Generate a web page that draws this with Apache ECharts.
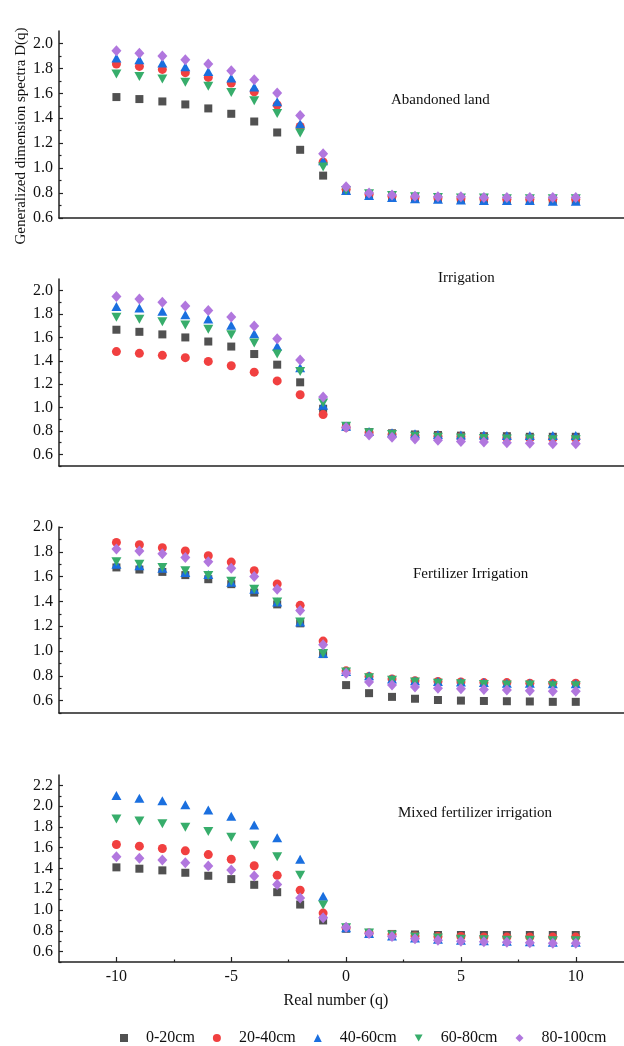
<!DOCTYPE html>
<html><head><meta charset="utf-8">
<script src="https://cdn.jsdelivr.net/npm/echarts@6/dist/echarts.min.js"></script>
<style>html,body{margin:0;padding:0;background:#fff}#c{width:624px;height:1046px}</style>
</head><body><div id="c"></div><script>
// ---------- DATA ----------
const qValues = [-10,-9,-8,-7,-6,-5,-4,-3,-2,-1,0,1,2,3,4,5,6,7,8,9,10];
const seriesNames = ['0-20cm','20-40cm','40-60cm','60-80cm','80-100cm'];
const panelTitles = ['Abandoned land','Irrigation','Fertilizer Irrigation','Mixed fertilizer irrigation'];

// Abandoned land
const abandoned_0_20  = [1.570,1.554,1.535,1.511,1.479,1.436,1.374,1.286,1.147,0.940,0.820,0.790,0.770,0.760,0.755,0.750,0.750,0.750,0.745,0.745,0.745];
const abandoned_20_40 = [1.835,1.816,1.792,1.766,1.728,1.683,1.613,1.506,1.334,1.050,0.830,0.790,0.775,0.765,0.760,0.755,0.755,0.750,0.750,0.750,0.750];
const abandoned_40_60 = [1.884,1.870,1.843,1.814,1.776,1.723,1.650,1.532,1.356,1.060,0.820,0.780,0.765,0.755,0.750,0.745,0.740,0.740,0.740,0.735,0.735];
const abandoned_60_80 = [1.755,1.736,1.715,1.688,1.656,1.607,1.540,1.438,1.281,1.010,0.820,0.795,0.780,0.770,0.765,0.760,0.760,0.755,0.755,0.755,0.755];
const abandoned_80_100= [1.942,1.921,1.900,1.870,1.835,1.782,1.709,1.602,1.422,1.115,0.850,0.800,0.785,0.775,0.770,0.770,0.765,0.765,0.765,0.765,0.765];

// Irrigation
const irrigation_0_20  = [1.666,1.648,1.626,1.600,1.565,1.522,1.458,1.367,1.216,0.990,0.840,0.790,0.780,0.770,0.765,0.760,0.755,0.755,0.750,0.750,0.750];
const irrigation_20_40 = [1.479,1.464,1.447,1.427,1.395,1.358,1.303,1.228,1.110,0.940,0.830,0.785,0.770,0.760,0.755,0.750,0.745,0.740,0.740,0.735,0.735];
const irrigation_40_60 = [1.865,1.851,1.825,1.795,1.758,1.704,1.631,1.525,1.341,1.020,0.840,0.795,0.785,0.775,0.770,0.765,0.765,0.760,0.760,0.760,0.760];
const irrigation_60_80 = [1.773,1.756,1.735,1.706,1.669,1.623,1.553,1.458,1.309,1.040,0.840,0.785,0.770,0.755,0.745,0.740,0.735,0.730,0.730,0.725,0.725];
const irrigation_80_100= [1.951,1.928,1.902,1.870,1.830,1.775,1.698,1.588,1.406,1.090,0.830,0.765,0.745,0.730,0.720,0.710,0.705,0.700,0.695,0.690,0.690];

// Fertilizer Irrigation
const fertilizer_0_20  = [1.674,1.657,1.638,1.612,1.579,1.539,1.471,1.376,1.223,0.975,0.725,0.660,0.630,0.615,0.605,0.600,0.597,0.595,0.593,0.590,0.590];
const fertilizer_20_40 = [1.876,1.857,1.833,1.806,1.768,1.717,1.647,1.541,1.368,1.080,0.840,0.795,0.775,0.760,0.755,0.750,0.745,0.745,0.740,0.740,0.740];
const fertilizer_40_60 = [1.700,1.687,1.668,1.633,1.617,1.555,1.498,1.395,1.233,0.980,0.835,0.800,0.775,0.760,0.755,0.750,0.745,0.740,0.740,0.735,0.735];
const fertilizer_60_80 = [1.720,1.700,1.674,1.647,1.609,1.563,1.498,1.395,1.233,0.980,0.830,0.785,0.765,0.750,0.740,0.735,0.730,0.725,0.725,0.720,0.720];
const fertilizer_80_100= [1.822,1.806,1.784,1.755,1.720,1.668,1.601,1.498,1.327,1.050,0.820,0.750,0.725,0.710,0.700,0.695,0.690,0.685,0.680,0.675,0.675];

// Mixed fertilizer irrigation
const mixed_0_20  = [1.411,1.398,1.382,1.359,1.330,1.298,1.243,1.172,1.053,0.900,0.820,0.780,0.770,0.765,0.760,0.760,0.760,0.760,0.760,0.760,0.760];
const mixed_20_40 = [1.631,1.615,1.592,1.570,1.534,1.489,1.427,1.334,1.191,0.971,0.830,0.780,0.765,0.750,0.745,0.745,0.740,0.740,0.740,0.740,0.740];
const mixed_40_60 = [2.103,2.077,2.052,2.013,1.964,1.902,1.819,1.696,1.489,1.133,0.830,0.775,0.750,0.730,0.720,0.710,0.705,0.700,0.695,0.690,0.690];
const mixed_60_80 = [1.877,1.858,1.831,1.796,1.757,1.702,1.625,1.514,1.334,1.049,0.830,0.780,0.760,0.740,0.730,0.720,0.715,0.710,0.710,0.705,0.705];
const mixed_80_100= [1.514,1.498,1.482,1.456,1.424,1.385,1.327,1.247,1.117,0.926,0.835,0.775,0.745,0.725,0.710,0.700,0.695,0.690,0.685,0.680,0.680];

// Tick labels
const xMajorTicks = [-10,-5,0,5,10];
const xMinorTicks = [-7.5,-2.5,2.5,7.5];
const yMajorTicks1 = [0.6,0.8,1.0,1.2,1.4,1.6,1.8,2.0];
const yMinorTicks1 = [0.7,0.9,1.1,1.3,1.5,1.7,1.9];
const yMajorTicks4 = [0.6,0.8,1.0,1.2,1.4,1.6,1.8,2.0,2.2];
const yMinorTicks2 = [0.5,0.7,0.9,1.1,1.3,1.5,1.7,1.9];
const yMinorTicks4 = [0.5,0.7,0.9,1.1,1.3,1.5,1.7,1.9,2.1];

// ---------- CHART ----------
const panelData = [
  [abandoned_0_20, abandoned_20_40, abandoned_40_60, abandoned_60_80, abandoned_80_100],
  [irrigation_0_20, irrigation_20_40, irrigation_40_60, irrigation_60_80, irrigation_80_100],
  [fertilizer_0_20, fertilizer_20_40, fertilizer_40_60, fertilizer_60_80, fertilizer_80_100],
  [mixed_0_20, mixed_20_40, mixed_40_60, mixed_60_80, mixed_80_100]
];
const FONT = "'Liberation Serif','Times New Roman',serif";
const colors = ['#515151','#F14040','#1A6FDF','#37AD6B','#B177DE'];
const symbols = ['rect','circle','triangle','path://M0,0L10,0L5,9Z','diamond'];
const symbolSizes = [8,9,[10,9],[10,9],[10,11]];
const legendIcons = ['rect','circle','triangle','path://M0,0L10,0L5,9Z','diamond'];
const X_MIN = -12.5, X_MAX = 12.1;

const panels = [
  {top:31, height:187, min:0.6, max:2.1, major:yMajorTicks1, minor:yMinorTicks1, titleX:391, titleY:102},
  {top:279, height:187, min:0.5, max:2.1, major:yMajorTicks1, minor:yMinorTicks2, titleX:438, titleY:280},
  {top:527, height:186, min:0.5, max:2.0, major:yMajorTicks1, minor:yMinorTicks2, titleX:413, titleY:576},
  {top:775, height:187, min:0.5, max:2.3, major:yMajorTicks4, minor:yMinorTicks4, titleX:398, titleY:815}
];

const grid = [], xAxis = [], yAxis = [], series = [], graphic = [];
const axisColor = '#222';
panels.forEach((p, i) => {
  grid.push({left:59, right:0, top:p.top, height:p.height, containLabel:false});
  const last = i === 3;
  xAxis.push({
    type:'value', gridIndex:i, min:X_MIN, max:X_MAX, position:'bottom',
    splitLine:{show:false},
    axisLine:{show:true, onZero:false, lineStyle:{color:axisColor, width:1.5}},
    axisTick:{show:last, inside:true, length:5, customValues:xMajorTicks, lineStyle:{color:axisColor, width:1.2}},
    axisLabel:{show:last, customValues:xMajorTicks, color:'#111', fontFamily:FONT, fontSize:16, margin:7,
      formatter: v => String(v)}
  });
  yAxis.push({
    type:'value', gridIndex:i, min:p.min, max:p.max, position:'left',
    splitLine:{show:false},
    axisLine:{show:true, onZero:false, lineStyle:{color:axisColor, width:1.5}},
    axisTick:{show:true, inside:true, length:4, customValues:p.major, lineStyle:{color:axisColor, width:1.2}},
    axisLabel:{show:true, customValues:p.major, color:'#111', fontFamily:FONT, fontSize:16, margin:6,
      formatter: v => Number(v).toFixed(1)}
  });
  graphic.push({type:'text', left:p.titleX, top:p.titleY - 9,
    style:{text:panelTitles[i], font:'15px ' + FONT, fill:'#111'}});
});
// minor tick axes
xAxis.push({
  type:'value', gridIndex:3, min:X_MIN, max:X_MAX, position:'bottom',
  splitLine:{show:false}, axisLine:{show:false, onZero:false},
  axisTick:{show:true, inside:true, length:2.5, customValues:xMinorTicks, lineStyle:{color:axisColor, width:1.2}},
  axisLabel:{show:false}
});
panels.forEach((p, i) => {
  yAxis.push({
    type:'value', gridIndex:i, min:p.min, max:p.max, position:'left',
    splitLine:{show:false}, axisLine:{show:false, onZero:false},
    axisTick:{show:true, inside:true, length:2.5, customValues:p.minor, lineStyle:{color:axisColor, width:1.2}},
    axisLabel:{show:false}
  });
});

panelData.forEach((arrs, i) => {
  arrs.forEach((vals, s) => {
    series.push({
      type:'scatter', name:seriesNames[s], xAxisIndex:i, yAxisIndex:i,
      symbol:symbols[s], symbolSize:symbolSizes[s],
      itemStyle:{color:colors[s], opacity:1},
      data: qValues.map((q, k) => [q, vals[k]]),
      z: 2 + s
    });
  });
});

graphic.push({type:'text', x:21, y:136, rotation:Math.PI/2,
  style:{text:'Generalized dimension spectra D(q)', font:'15px ' + FONT, fill:'#111', align:'center', verticalAlign:'middle'}});
graphic.push({type:'text', x:336, y:1001,
  style:{text:'Real number (q)', font:'16px ' + FONT, fill:'#111', align:'center', verticalAlign:'middle'}});

const chart = echarts.init(document.getElementById('c'), null, {renderer:'canvas'});
chart.setOption({
  animation:false,
  backgroundColor:'#fff',
  color:colors,
  grid, xAxis, yAxis, series, graphic,
  legend:{
    left:115, top:1025, itemGap:18, itemWidth:8, itemHeight:8,
    data: seriesNames.map((n, s) => ({name:n, icon:legendIcons[s]})),
    textStyle:{fontFamily:FONT, fontSize:16, color:'#111', padding:[0,0,0,13]}
  }
});
</script></body></html>
